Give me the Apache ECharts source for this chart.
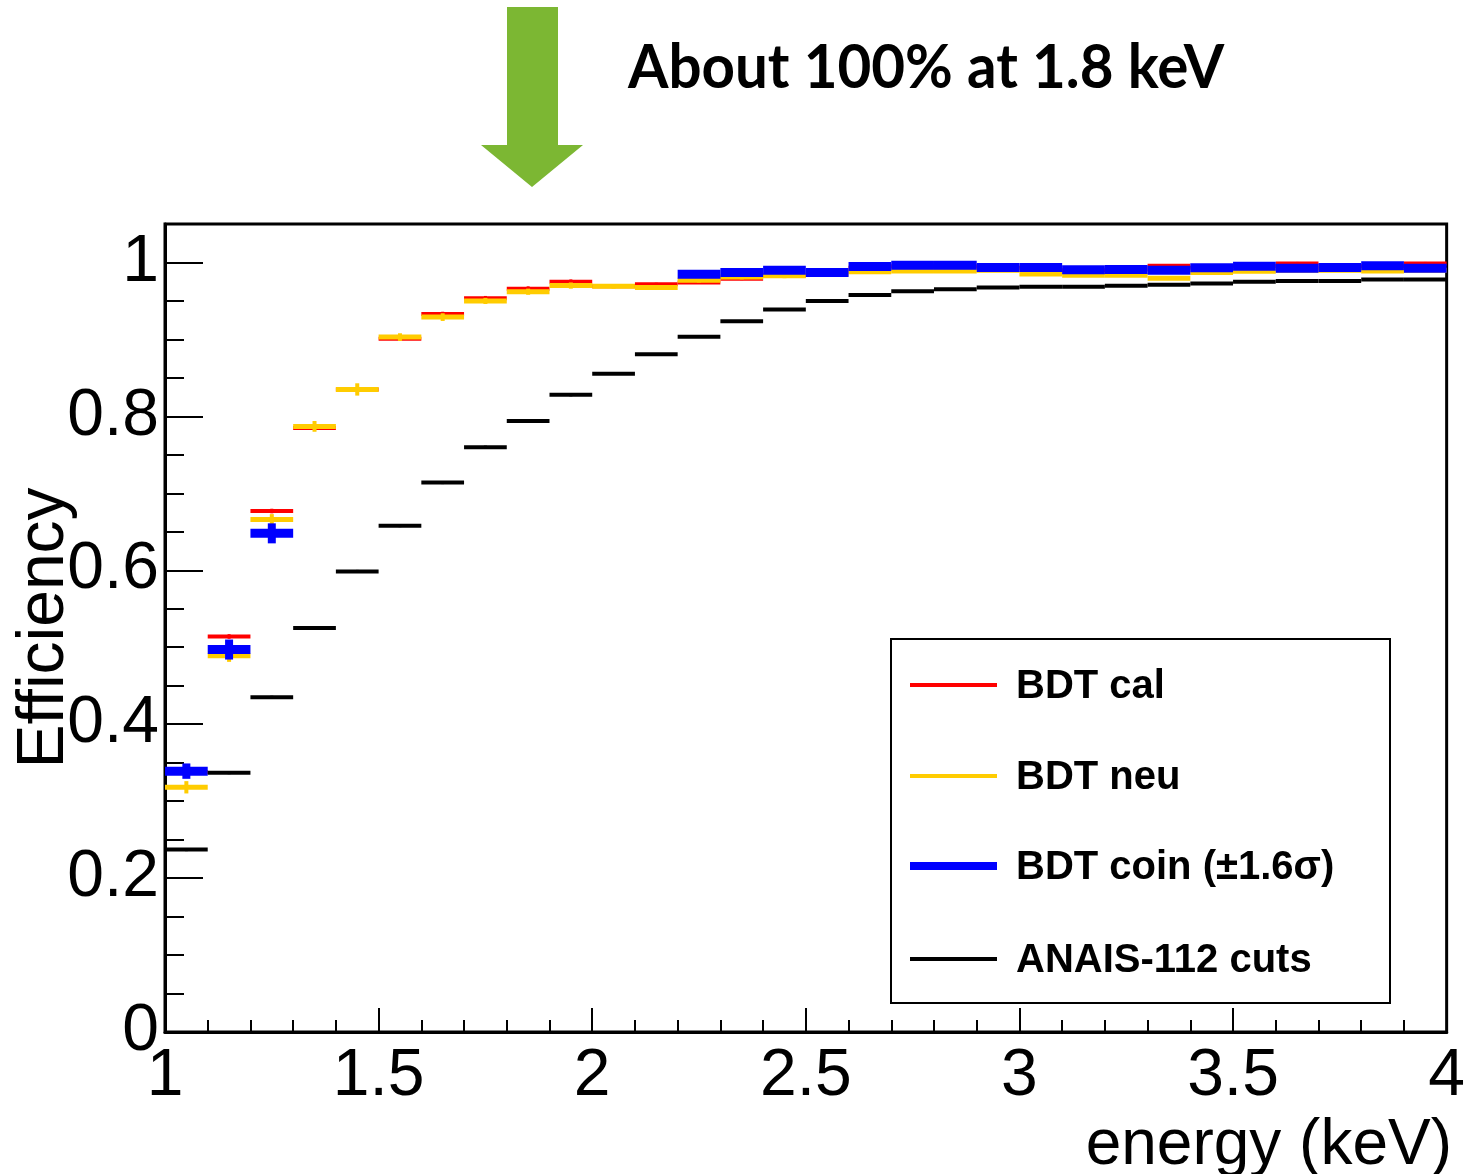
<!DOCTYPE html>
<html>
<head>
<meta charset="utf-8">
<script src="https://cdn.jsdelivr.net/npm/echarts@6/dist/echarts.min.js"></script>
<style>
  html, body { margin: 0; padding: 0; background: #fff; }
  #chart { width: 1468px; height: 1174px; }
</style>
</head>
<body>
<div id="chart"></div>
<script>
// Energy bins (keV): centres of the 0.1 keV bins from 1 to 4
const binCenters = [1.05, 1.15, 1.25, 1.35, 1.45, 1.55, 1.65, 1.75, 1.85, 1.95,
                    2.05, 2.15, 2.25, 2.35, 2.45, 2.55, 2.65, 2.75, 2.85, 2.95,
                    3.05, 3.15, 3.25, 3.35, 3.45, 3.55, 3.65, 3.75, 3.85, 3.95];
const binHalfWidth = 0.05;

// Efficiency per bin for each selection
const bdtCal = [0.338, 0.514, 0.677, 0.785, 0.835, 0.901, 0.933, 0.9535, 0.966, 0.975,
                0.969, 0.9717, 0.974, 0.979, 0.983, 0.988, 0.993, 0.995, 0.995, 0.993,
                0.993, 0.990, 0.991, 0.9956, 0.993, 0.995, 0.9987, 0.993, 0.995, 0.9987];
const bdtCalErr = [0.003, 0.003, 0.003, 0.003, 0.003, 0.003, 0.003, 0.003, 0.003, 0.003,
                   0.002, 0.002, 0.002, 0.002, 0.002, 0.002, 0.002, 0.002, 0.002, 0.002,
                   0.002, 0.002, 0.002, 0.002, 0.002, 0.002, 0.002, 0.002, 0.002, 0.002];

const bdtNeu = [0.318, 0.489, 0.666, 0.787, 0.835, 0.903, 0.929, 0.950, 0.962, 0.970,
                0.969, 0.9674, 0.977, 0.981, 0.9826, 0.985, 0.988, 0.989, 0.989, 0.990,
                0.985, 0.9835, 0.9835, 0.9795, 0.987, 0.9887, 0.990, 0.990, 0.989, 0.990];
const bdtNeuErr = [0.008, 0.008, 0.007, 0.007, 0.008, 0.005, 0.005, 0.004, 0.004, 0.004,
                   0.003, 0.003, 0.003, 0.003, 0.003, 0.002, 0.002, 0.002, 0.002, 0.002,
                   0.002, 0.002, 0.002, 0.002, 0.002, 0.002, 0.002, 0.002, 0.002, 0.002];

const bdtCoin = [0.339, 0.497, 0.648, null, null, null, null, null, null, null,
                 null, null, 0.9848, 0.987, 0.990, 0.987, 0.9948, 0.9965, 0.9965, 0.9935,
                 0.9935, 0.9904, 0.991, 0.990, 0.993, 0.995, 0.9926, 0.9935, 0.9956, 0.9926];
const bdtCoinErr = [0.010, 0.013, 0.013, null, null, null, null, null, null, null,
                    null, null, 0.004, 0.004, 0.004, 0.004, 0.003, 0.003, 0.003, 0.003,
                    0.003, 0.003, 0.003, 0.003, 0.003, 0.003, 0.003, 0.003, 0.003, 0.003];

const anaisCuts = [0.237, 0.337, 0.435, 0.525, 0.5985, 0.658, 0.714, 0.760, 0.794, 0.828,
                   0.8555, 0.8806, 0.9036, 0.9236, 0.9388, 0.950, 0.9578, 0.9626, 0.9652, 0.9674,
                   0.9683, 0.9683, 0.9696, 0.971, 0.9727, 0.9748, 0.976, 0.976, 0.978, 0.978];
const anaisCutsErr = [0.002, 0.002, 0.002, 0.002, 0.002, 0.002, 0.002, 0.002, 0.002, 0.002,
                      0.001, 0.001, 0.001, 0.001, 0.001, 0.001, 0.001, 0.001, 0.001, 0.001,
                      0.001, 0.001, 0.001, 0.001, 0.001, 0.001, 0.001, 0.001, 0.001, 0.001];

const FONT = "'Liberation Sans', Arial, sans-serif";

function toData(values, errors) {
  const out = [];
  values.forEach((v, i) => {
    if (v !== null) out.push([binCenters[i], v, errors[i]]);
  });
  return out;
}

// Histogram-style bins: horizontal bar across the bin plus a vertical error bar
function histSeries(name, values, errors, color, lineWidth, errWidth) {
  return {
    name: name,
    type: 'custom',
    clip: true,
    data: toData(values, errors),
    renderItem: function (params, api) {
      const x = api.value(0), v = api.value(1), e = api.value(2);
      const a = api.coord([x - binHalfWidth, v]);
      const b = api.coord([x + binHalfWidth, v]);
      const t = api.coord([x, v + e]);
      const d = api.coord([x, v - e]);
      return {
        type: 'group',
        children: [
          { type: 'line', shape: { x1: a[0], y1: a[1], x2: b[0], y2: b[1] },
            style: { stroke: color, lineWidth: lineWidth } },
          { type: 'line', shape: { x1: t[0], y1: t[1], x2: d[0], y2: d[1] },
            style: { stroke: color, lineWidth: errWidth } }
        ]
      };
    }
  };
}

const legendItems = [
  { label: 'BDT cal', color: '#ff0000', width: 4, y: 685 },
  { label: 'BDT neu', color: '#ffcc00', width: 4, y: 776 },
  { label: 'BDT coin (±1.6σ)', color: '#0000ff', width: 8, y: 866 },
  { label: 'ANAIS-112 cuts', color: '#000000', width: 4, y: 959 }
];

const legendGraphics = [
  { type: 'rect', shape: { x: 891, y: 639, width: 499, height: 364 },
    style: { fill: '#ffffff', stroke: '#000000', lineWidth: 2 }, z: 10 }
];
legendItems.forEach(it => {
  legendGraphics.push({ type: 'line', shape: { x1: 910, y1: it.y, x2: 997, y2: it.y },
    style: { stroke: it.color, lineWidth: it.width }, z: 11 });
  legendGraphics.push({ type: 'text', x: 1016, y: it.y + 2, z: 11,
    style: { text: it.label, font: 'bold 40px ' + FONT, fill: '#000',
             textAlign: 'left', textVerticalAlign: 'middle' } });
});

const chart = echarts.init(document.getElementById('chart'), null, { renderer: 'canvas' });
chart.setOption({
  animation: false,
  backgroundColor: '#ffffff',
  grid: { left: 165, right: 15, top: 224, bottom: 142, show: true,
          borderColor: '#000', borderWidth: 3, backgroundColor: 'transparent' },
  xAxis: {
    type: 'value', min: 1, max: 4, interval: 0.5,
    axisLine: { show: true, lineStyle: { color: '#000', width: 3 } },
    axisTick: { show: true, inside: true, length: 24, lineStyle: { color: '#000', width: 2 } },
    minorTick: { show: true, splitNumber: 5, length: 12, lineStyle: { color: '#000', width: 2 } },
    splitLine: { show: false },
    axisLabel: { color: '#000', fontFamily: FONT, fontSize: 66, margin: 12,
                 formatter: v => String(+v.toFixed(1)) }
  },
  yAxis: {
    type: 'value', min: 0, max: 1.05, interval: 0.2,
    axisLine: { show: true, lineStyle: { color: '#000', width: 3 } },
    axisTick: { show: true, inside: true, length: 38, lineStyle: { color: '#000', width: 2 } },
    minorTick: { show: true, splitNumber: 4, length: 19, lineStyle: { color: '#000', width: 2 } },
    splitLine: { show: false },
    axisLabel: { color: '#000', fontFamily: FONT, fontSize: 66, margin: 6, showMaxLabel: false,
                 formatter: v => String(+v.toFixed(1)) }
  },
  series: [
    histSeries('BDT cal', bdtCal, bdtCalErr, '#ff0000', 4, 3),
    histSeries('BDT neu', bdtNeu, bdtNeuErr, '#ffcc00', 5, 4),
    histSeries('BDT coin (±1.6σ)', bdtCoin, bdtCoinErr, '#0000ff', 9, 8),
    histSeries('ANAIS-112 cuts', anaisCuts, anaisCutsErr, '#000000', 4, 3)
  ],
  graphic: [
    // Green pointer arrow above the plot
    { type: 'polygon', z: 5,
      shape: { points: [[507, 7], [558, 7], [558, 145], [583, 145], [532, 187], [481, 145], [507, 145]] },
      style: { fill: '#7cb733' } },
    { type: 'text', x: 628, y: 68, scaleX: 0.94, z: 5,
      style: { text: 'About 100% at 1.8 keV', font: 'bold 62px Lato, "Open Sans", sans-serif',
               fill: '#000', textAlign: 'left', textVerticalAlign: 'middle' } },
    { type: 'text', x: 45, y: 628, rotation: Math.PI / 2, z: 5,
      style: { text: 'Efficiency', font: '66px ' + FONT, fill: '#000',
               textAlign: 'center', textVerticalAlign: 'middle' } },
    { type: 'text', x: 1452, y: 1178, z: 5,
      style: { text: 'energy (keV)', font: '64px ' + FONT, fill: '#000',
               textAlign: 'right', textVerticalAlign: 'bottom' } }
  ].concat(legendGraphics)
});
</script>
</body>
</html>
